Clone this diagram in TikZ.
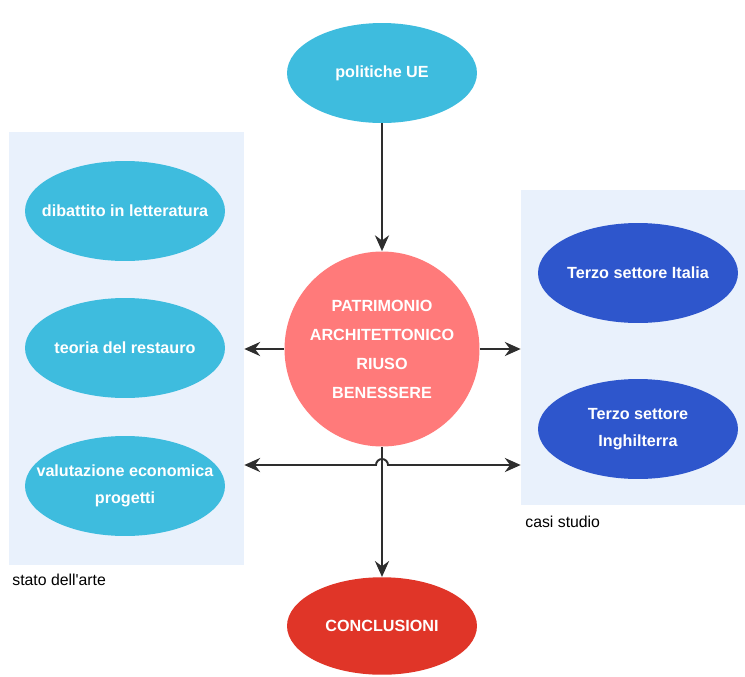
\documentclass[tikz,border=0pt]{standalone}
\usepackage{fontspec}
\setmainfont{Liberation Sans}
\usetikzlibrary{shapes.geometric,arrows.meta}
\definecolor{cielo}{HTML}{3EBCDE}
\definecolor{blu}{HTML}{2E56CC}
\definecolor{salmone}{HTML}{FF7A7A}
\definecolor{rosso}{HTML}{E03528}
\definecolor{fondo}{HTML}{E9F1FC}
\definecolor{linea}{HTML}{2E2E2E}
\tikzset{
  ovale/.style={ellipse,fill=#1,text=white,font=\bfseries\fontsize{9.2}{15}\selectfont,align=center,
    minimum width=4cm,minimum height=2cm,inner sep=0pt,inner xsep=-0.5cm},
  riquadro/.style={fill=fondo,inner sep=0pt},
  punta/.style={Stealth[length=9pt,width=8pt]},
  freccia/.style={draw=linea,line width=1.1pt,-{Stealth[length=9pt,width=8pt]}},
  didascalia/.style={font=\fontsize{9}{11}\selectfont,anchor=west,inner sep=0pt},
}
\begin{document}
\begin{tikzpicture}[x=0.02cm,y=-0.02cm]
\useasboundingbox[fill=white] (0,0) rectangle (745,677);
% riquadri
\node[riquadro,minimum width=4.7cm,minimum height=8.66cm] (arte) at (126.5,348.5) {};
\node[riquadro,minimum width=4.48cm,minimum height=6.3cm] (casi) at (633,347.5) {};
\node[didascalia] (lblarte) at (12,580) {stato dell\textquotesingle arte};
\node[didascalia] (lblcasi) at (525,522) {casi studio};
% nodi
\node[ovale=cielo,minimum width=3.8cm] (ue) at (382,73) {politiche UE};
\foreach \n/\y/\t in {lett/211/{dibattito in letteratura},rest/348/{teoria del restauro},val/486/{valutazione economica\\progetti}}
  \node[ovale=cielo] (\n) at (125,\y) {\t};
\node[ovale=blu] (ita) at (638,273) {Terzo settore Italia};
\node[ovale=blu] (ing) at (638,429) {Terzo settore\\Inghilterra};
\node[circle,fill=salmone,text=white,minimum size=3.9cm,inner sep=0pt,align=center,
  font=\bfseries\fontsize{9.2}{16.5}\selectfont] (nucleo) at (382,349) {PATRIMONIO\\ARCHITETTONICO\\RIUSO\\BENESSERE};
\node[ovale=rosso,minimum width=3.8cm,minimum height=1.95cm] (concl) at (382,626) {CONCLUSIONI};
% frecce
\coordinate (incrocio) at (382,465);
\draw[freccia] (ue) -- (nucleo);
\draw[freccia] (nucleo.west) -- (nucleo.west -| arte.east);
\draw[freccia] (nucleo.east) -- (nucleo.east -| casi.west);
\draw[freccia] (nucleo) -- (concl);
\draw[freccia,{Stealth[length=9pt,width=8pt]}-{Stealth[length=9pt,width=8pt]}] (incrocio -| arte.east)
  -- ([xshift=-0.12cm]incrocio) arc[start angle=180,end angle=0,radius=0.12cm] -- (incrocio -| casi.west);
\end{tikzpicture}
\end{document}
